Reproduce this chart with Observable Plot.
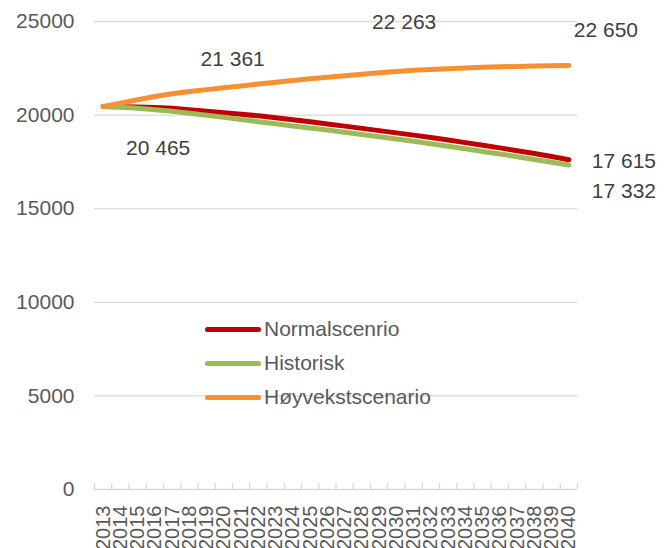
<!DOCTYPE html>
<html>
<head>
<meta charset="utf-8">
<script src="https://cdn.jsdelivr.net/npm/d3@7"></script>
<script src="https://cdn.jsdelivr.net/npm/@observablehq/plot@0.6"></script>
<style>
  html, body { margin: 0; padding: 0; background: #fff; }
  #wrap { position: relative; width: 669px; height: 548px; overflow: hidden; font-family: "Liberation Sans", Arial, sans-serif; }
  #legend { position: absolute; left: 205px; top: 312px; font-size: 21px; color: #595959; }
  #legend .row { display: flex; align-items: center; height: 34px; }
  #legend .sw { width: 56px; height: 5px; border-radius: 3px; margin-right: 3px; }
</style>
</head>
<body>
<div id="wrap"><div id="legend"></div></div>
<script>
// ---- data ----
const years = [2013,2014,2015,2016,2017,2018,2019,2020,2021,2022,2023,2024,2025,2026,2027,2028,2029,2030,2031,2032,2033,2034,2035,2036,2037,2038,2039,2040];
const seriesNames = ["Normalscenrio", "Historisk", "Høyvekstscenario"];
const seriesColors = ["#C00000", "#9BBB59", "#F78F33"];
const normal = [20465,20450,20430,20400,20360,20290,20210,20130,20050,19960,19860,19750,19640,19530,19410,19290,19170,19050,18930,18800,18670,18530,18390,18250,18100,17950,17790,17615];
const historisk = [20465,20420,20360,20290,20210,20100,19990,19880,19760,19650,19540,19420,19310,19200,19080,18960,18840,18720,18600,18470,18340,18200,18060,17920,17780,17630,17480,17332];
const hoyvekst = [20465,20640,20820,20990,21140,21260,21361,21460,21560,21660,21760,21850,21940,22020,22100,22180,22263,22330,22390,22440,22480,22520,22550,22580,22600,22620,22635,22650];
const yTicks = [0, 5000, 10000, 15000, 20000, 25000];
// labelled points: [series index, year]
const labelPoints = [[0, 2013], [2, 2019], [2, 2029], [2, 2040], [0, 2040], [1, 2040]];
// label offsets in px (style)
const labelOffsets = [[55, 42], [26, -30], [25, -50], [37, -35], [55, 2], [55, 26]];

// ---- build ----
const seriesValues = [normal, historisk, hoyvekst];
const rows = [];
seriesNames.forEach((s, i) => years.forEach((y, j) => rows.push({series: s, year: y, value: seriesValues[i][j]})));
const boundaries = years.map(y => y - 0.5).concat([years[years.length - 1] + 0.5]);
const fmt = d3.formatLocale({decimal: ",", thousands: " ", grouping: [3], currency: ["", ""]}).format(",d");

const labelMarks = labelPoints.map(([si, yr], k) => {
  const v = seriesValues[si][years.indexOf(yr)];
  return Plot.text([{year: yr, value: v}], {
    x: "year", y: "value", text: d => fmt(d.value),
    dx: labelOffsets[k][0], dy: labelOffsets[k][1],
    fill: "#404040", fontSize: 21, textAnchor: "middle"
  });
});

const chart = Plot.plot({
  width: 669,
  height: 548,
  marginLeft: 94,
  marginRight: 92,
  marginTop: 21,
  marginBottom: 59,
  style: {fontFamily: "'Liberation Sans', Arial, sans-serif", fontSize: "21px", color: "#595959", background: "white", overflow: "visible"},
  x: {domain: [2012.5, 2040.5]},
  y: {domain: [0, 25000]},
  color: {domain: seriesNames, range: seriesColors},
  marks: [
    Plot.gridY(yTicks, {stroke: "#d9d9d9", strokeOpacity: 1, strokeWidth: 1.3}),
    Plot.ruleX(boundaries, {stroke: "#d9d9d9", strokeWidth: 1.3, insetTop: 462}),
    Plot.axisY(yTicks, {tickSize: 0, tickPadding: 20, tickFormat: d => String(d), fill: "#595959", fontSize: 21, label: null}),
    Plot.axisX(years, {tickSize: 0, tickRotate: -90, tickPadding: 16, tickFormat: d => String(d), fill: "#595959", fontSize: 20, label: null}),
    Plot.line(rows, {x: "year", y: "value", z: "series", stroke: "series", strokeWidth: 5, strokeLinecap: "round", strokeLinejoin: "round"}),
    ...labelMarks
  ]
});
const wrap = document.getElementById("wrap");
wrap.insertBefore(chart, wrap.firstChild);

const legend = document.getElementById("legend");
seriesNames.forEach((s, i) => {
  const row = document.createElement("div");
  row.className = "row";
  const sw = document.createElement("div");
  sw.className = "sw";
  sw.style.background = seriesColors[i];
  const t = document.createElement("span");
  t.textContent = s;
  row.appendChild(sw);
  row.appendChild(t);
  legend.appendChild(row);
});
</script>
</body>
</html>
